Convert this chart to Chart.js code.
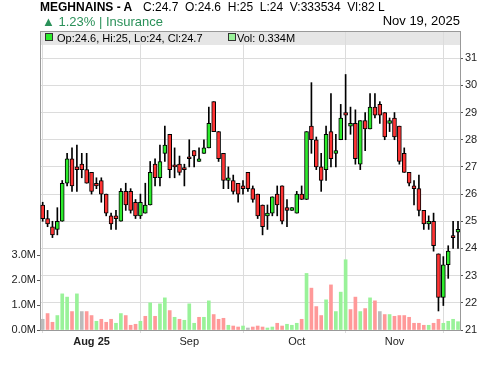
<!DOCTYPE html>
<html><head><meta charset="utf-8">
<script src="https://cdn.jsdelivr.net/npm/chart.js@4.4.1/dist/chart.umd.min.js"></script>
<style>
html,body{margin:0;padding:0;background:#fff;}
#wrap{position:relative;width:500px;height:366px;overflow:hidden;font-family:"Liberation Sans",Arial,sans-serif;color:#000;}
#band{position:absolute;left:40px;top:31px;width:420px;height:14px;background:#e6e6e6;}
canvas{position:absolute;left:0;top:0;}
.txt{position:absolute;white-space:pre;line-height:1;}
.sq{position:absolute;width:6px;height:6px;border:1px solid #333;}
</style></head>
<body><div id="wrap">
<div id="band"></div>
<canvas id="c" width="500" height="366"></canvas>
<div class="txt" style="left:40px;top:1px;font-size:12px"><b id="sym"></b></div>
<div class="txt" id="quote" style="left:143px;top:1px;font-size:12px"></div>
<div class="txt" id="chg" style="left:42px;top:15px;font-size:13px;color:#2a9159"></div>
<div class="txt" id="dt" style="right:40px;top:14px;font-size:13px"></div>
<div class="sq" style="left:45px;top:33px;background:#2deb2d"></div>
<div class="txt" id="lg1" style="left:57px;top:33px;font-size:11px"></div>
<div class="sq" style="left:228px;top:33px;background:#99f299"></div>
<div class="txt" id="lg2" style="left:237px;top:33px;font-size:11px"></div>
</div>
<script>
const symbol = 'MEGHNAINS - A';
const sector = 'Insurance';
const lastDate = 'Nov 19, 2025';
const valueLakh = '82 L';
const dates = [
'2025-07-20','2025-07-21','2025-07-22','2025-07-23','2025-07-24','2025-07-27','2025-07-28','2025-07-29','2025-07-30','2025-07-31',
'2025-08-03','2025-08-04','2025-08-06','2025-08-07','2025-08-10','2025-08-11','2025-08-12','2025-08-13','2025-08-14','2025-08-17',
'2025-08-18','2025-08-19','2025-08-20','2025-08-21','2025-08-24','2025-08-25','2025-08-26','2025-08-27','2025-08-28','2025-08-31',
'2025-09-01','2025-09-02','2025-09-03','2025-09-04','2025-09-07','2025-09-08','2025-09-09','2025-09-10','2025-09-11','2025-09-14',
'2025-09-15','2025-09-16','2025-09-17','2025-09-18','2025-09-21','2025-09-22','2025-09-23','2025-09-24','2025-09-25','2025-09-28',
'2025-09-29','2025-09-30','2025-10-05','2025-10-06','2025-10-07','2025-10-08','2025-10-09','2025-10-12','2025-10-13','2025-10-14',
'2025-10-15','2025-10-16','2025-10-19','2025-10-20','2025-10-21','2025-10-22','2025-10-23','2025-10-26','2025-10-27','2025-10-28',
'2025-10-29','2025-10-30','2025-11-02','2025-11-03','2025-11-04','2025-11-05','2025-11-06','2025-11-09','2025-11-10','2025-11-11',
'2025-11-12','2025-11-13','2025-11-16','2025-11-17','2025-11-18','2025-11-19'];
const open = [
25.6,25.1,24.8,24.7,25.0,26.4,27.3,27.0,27.1,26.9,
26.8,26.4,26.5,26.0,25.2,25.2,25.0,26.1,26.1,25.7,
25.2,25.3,25.6,27.1,26.6,27.5,28.2,27.0,27.1,26.9,
27.3,27.6,27.2,27.5,27.7,29.4,28.3,27.5,26.5,26.5,
26.4,26.3,26.8,26.2,26.0,25.6,25.2,25.3,26.0,26.3,
25.5,25.4,25.3,26.0,25.8,28.5,28.0,27.0,26.9,28.3,
27.5,28.0,29.0,28.5,28.6,27.1,28.7,28.4,29.2,29.3,
29.0,28.6,28.8,28.5,27.5,26.8,26.3,26.2,25.4,24.9,
25.0,23.8,22.2,23.4,24.4,24.6];
const high = [
25.7,25.4,25.0,25.5,26.5,27.5,27.7,27.8,27.5,27.5,
26.8,26.6,26.6,26.0,25.3,25.4,26.2,26.4,26.2,25.8,
26.0,26.4,27.2,27.3,27.8,28.5,28.2,27.7,27.4,27.1,
28.0,27.6,27.7,28.0,29.2,29.4,28.3,27.5,27.0,26.7,
26.4,26.5,26.8,26.3,26.0,25.6,25.6,25.9,26.3,26.3,
25.8,25.5,26.1,26.3,28.3,30.1,28.1,27.5,28.5,29.7,
28.2,29.3,30.4,29.2,29.1,28.7,29.0,29.7,29.7,29.4,
29.0,28.8,29.0,28.5,27.7,26.8,26.5,26.7,25.4,25.2,
25.3,23.8,23.7,24.1,25.0,25.0];
const low = [
25.0,24.8,24.4,24.5,25.0,26.3,26.1,26.1,26.6,26.4,
26.0,26.2,25.7,25.2,24.7,24.7,25.0,25.4,25.3,25.1,
25.1,25.3,25.6,26.3,26.3,27.2,26.6,26.6,26.7,26.3,
27.0,27.0,27.2,27.5,27.7,28.3,27.2,26.2,26.2,26.0,
25.7,26.0,26.1,25.7,25.1,24.5,24.7,25.2,25.2,24.9,
24.8,25.4,25.3,25.8,25.8,27.5,26.9,26.1,26.5,27.0,
27.0,28.0,28.0,28.2,27.1,26.9,27.6,28.4,28.8,28.6,
28.0,28.3,28.0,27.1,26.8,26.3,25.6,25.2,24.7,24.7,
23.9,21.7,21.9,22.9,24.0,24.0];
const close = [
25.1,24.9,24.5,25.0,26.4,27.3,26.3,26.9,26.9,26.4,
26.1,26.3,26.0,25.3,24.9,25.1,26.1,25.6,25.4,25.2,
25.7,25.6,26.8,26.6,27.2,27.8,26.9,27.0,26.8,26.9,
27.3,27.4,27.3,27.7,28.6,28.3,27.3,26.5,26.6,26.1,
26.0,26.2,26.2,25.8,25.2,24.8,25.3,25.9,25.6,25.0,
25.4,25.5,26.0,25.8,28.3,28.0,27.0,26.5,28.2,27.3,
27.6,28.8,28.9,28.6,27.3,28.7,28.4,29.2,28.9,28.9,
28.1,28.7,28.1,27.2,26.8,26.4,26.2,25.4,24.9,25.0,
24.1,22.2,23.4,23.9,24.4,24.7];
const volumeM = [
0.43,0.66,0.31,0.58,1.45,1.32,0.74,1.45,0.74,0.74,
0.58,0.35,0.43,0.31,0.43,0.27,0.66,0.58,0.19,0.23,
0.35,0.55,1.09,0.55,1.05,1.29,0.78,0.51,0.43,0.39,
1.05,0.27,0.51,0.51,1.17,0.62,0.43,0.47,0.19,0.16,
0.12,0.16,0.08,0.12,0.16,0.12,0.08,0.12,0.27,0.16,
0.23,0.19,0.27,0.43,2.27,1.68,0.94,0.58,1.21,1.81,
0.74,1.52,2.82,0.82,1.32,0.74,0.86,1.29,1.17,0.74,
0.62,0.62,0.55,0.58,0.58,0.51,0.27,0.27,0.19,0.19,
0.27,0.43,0.27,0.35,0.43,0.333534];
const monthLabels = ['Aug 25','Sep','Oct','Nov'];
const priceTicks = [21,22,23,24,25,26,27,28,29,30,31];
const volTicks = [0,1,2,3];

const GREEN='#2deb2d', RED='#ff3333', VGREEN='#99f299', VRED='#ff9999', VGRAY='#bbbbbb';
const n = close.length, L = n-1;
const monthIdx = [];
for (let i=1;i<n;i++) if (dates[i].slice(0,7)!==dates[i-1].slice(0,7)) monthIdx.push(i);

// header texts from data
const pct = (close[L]-close[L-1])/close[L-1]*100;
document.getElementById('sym').textContent = symbol;
document.getElementById('quote').textContent =
  'C:'+close[L]+'  O:'+open[L]+'  H:'+high[L]+'  L:'+low[L]+'  V:'+Math.round(volumeM[L]*1e6)+'  Vl:'+valueLakh;
document.getElementById('chg').textContent = (pct>=0?'\u25B2 ':'\u25BC ')+pct.toFixed(2)+'% | '+sector;
document.getElementById('dt').textContent = lastDate;
document.getElementById('lg1').textContent = 'Op:'+open[L]+', Hi:'+high[L]+', Lo:'+low[L]+', Cl:'+close[L];
document.getElementById('lg2').textContent = 'Vol: '+volumeM[L].toFixed(3)+'M';

const bodies = open.map((o,i)=>({x:i,y:[o,close[i]]}));
const wicks = low.map((l,i)=>({x:i,y:[l,high[i]]}));
const vols = volumeM.map((v,i)=>({x:i,y:v}));
const bodyColors = open.map((o,i)=> close[i]>o ? GREEN : RED);
const volColors = close.map((c,i)=> i===0 ? VGRAY : (c>close[i-1] ? VGREEN : (c<close[i-1] ? VRED : VGRAY)));

const frame = { id:'frame', afterDraw(c){ const {ctx, chartArea:a} = c; ctx.save(); ctx.strokeStyle='#999'; ctx.lineWidth=1; ctx.beginPath(); ctx.moveTo(a.left, Math.round(a.top)+0.5); ctx.lineTo(a.right+1, Math.round(a.top)+0.5); ctx.stroke(); ctx.restore(); } };

Chart.defaults.font.family = '"Liberation Sans", Arial, sans-serif';
Chart.defaults.font.size = 11;
Chart.defaults.color = '#222';

new Chart(document.getElementById('c'), {
  type:'bar',
  data:{ datasets:[
    {label:'Body', data:bodies, backgroundColor:bodyColors, borderColor:'#000', borderWidth:1, borderSkipped:false, barThickness:4, minBarLength:2, grouped:false, yAxisID:'y'},
    {label:'Range', data:wicks, backgroundColor:'#000', barThickness:1, grouped:false, yAxisID:'y'},
    {label:'Volume', data:vols, backgroundColor:volColors, barThickness:3, grouped:false, yAxisID:'yv'}
  ]},
  options:{
    responsive:false, animation:false, devicePixelRatio:1,
    layout:{padding:{top:31,left:0,right:0,bottom:0}},
    plugins:{legend:{display:false}, tooltip:{enabled:false}},
    scales:{
      x:{ type:'linear', min:-0.55, max:85.41, offset:false,
        afterBuildTicks:(s)=>{ s.ticks = monthIdx.map(v=>({value:v})); },
        afterFit:(s)=>{ s.height = 36; },
        grid:{color:'#dcdcdc', tickColor:'#dcdcdc', tickLength:3},
        border:{color:'#999'},
        ticks:{autoSkip:false, maxRotation:0, padding:2, color:'#222',
          font:(c)=>({size:11, weight:(c.index===0?'bold':'normal')}),
          callback:(v,i)=>monthLabels[i]}
      },
      y:{ position:'right', min:21, max:32,
        afterBuildTicks:(s)=>{ s.ticks = priceTicks.map(v=>({value:v})); },
        afterFit:(s)=>{ s.width = 40; },
        grid:{color:'#dcdcdc', tickColor:'#555', tickLength:3},
        border:{color:'#999'},
        ticks:{padding:2, color:'#222', font:{size:11}, callback:(v)=>String(v)}
      },
      yv:{ position:'left', min:0, max:12,
        afterBuildTicks:(s)=>{ s.ticks = volTicks.map(v=>({value:v})); },
        afterFit:(s)=>{ s.width = 40; },
        grid:{drawOnChartArea:false, tickColor:'#555', tickLength:3},
        border:{color:'#999'},
        ticks:{padding:1, color:'#222', font:{size:11}, callback:(v)=>v.toFixed(1)+'M'}
      }
    }
  },
  plugins:[frame]
});
</script>
</body></html>
